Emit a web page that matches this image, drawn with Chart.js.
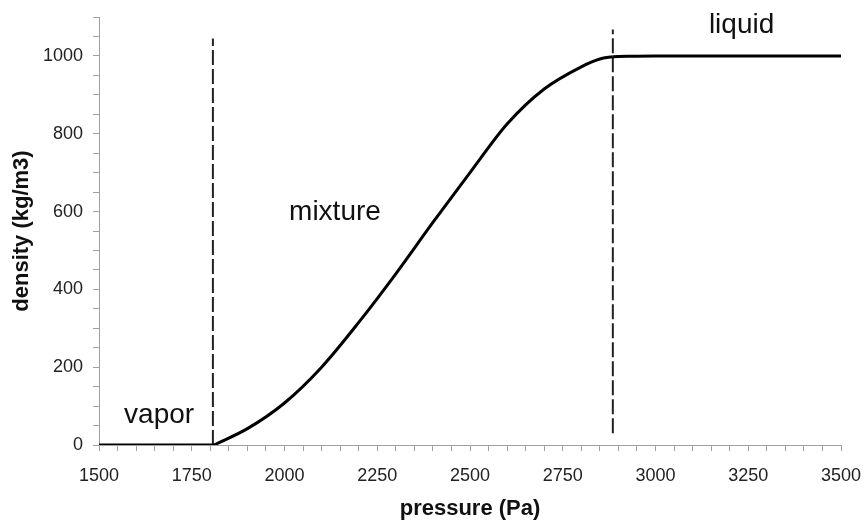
<!DOCTYPE html>
<html>
<head>
<meta charset="utf-8">
<script src="https://cdn.jsdelivr.net/npm/chart.js@4/dist/chart.umd.min.js"></script>
<style>
  html, body { margin: 0; padding: 0; background: #fff; }
  #wrap { width: 867px; height: 527px; }
</style>
</head>
<body>
<div id="wrap"><canvas id="densityChart" width="867" height="527"></canvas></div>
<script>
// density vs pressure, split by phase
const vaporP   = [1500, 1810];
const vaporD   = [0, 0];
const mixtureP = [1810, 1900, 2000, 2100, 2200, 2300, 2400, 2500, 2600, 2700, 2800, 2850, 2885];
const mixtureD = [0, 42, 108, 200, 315, 440, 572, 700, 825, 915, 972, 992, 998];
const liquidP  = [2885, 3000, 3250, 3500];
const liquidD  = [998, 1000, 1000, 1000];

// phase boundaries (dashed lines): x, bottom, top
const vaporLine  = [1807, 0, 1045];
const liquidLine = [2885, 30, 1068];

// region labels: text, x, y
const regionText = ['vapor', 'mixture', 'liquid'];
const regionX = [1662, 2136, 3232];
const regionY = [57, 579, 1060];

const FONT = '"Liberation Sans", Arial, sans-serif';
const axisGray = '#a0a0a0';

const regionLabels = {
  id: 'regionLabels',
  afterDatasetsDraw(chart) {
    const { ctx, scales: { x, y } } = chart;
    ctx.save();
    ctx.font = '28px ' + FONT;
    ctx.fillStyle = '#111';
    ctx.textAlign = 'center';
    ctx.textBaseline = 'alphabetic';
    regionText.forEach((t, i) => {
      ctx.fillText(t, x.getPixelForValue(regionX[i]), y.getPixelForValue(regionY[i]));
    });
    ctx.restore();
  }
};

const toPoints = (xs, ys) => xs.map((v, i) => ({ x: v, y: ys[i] }));

const curve = { borderColor: '#000', borderWidth: 3, pointRadius: 0, fill: false };
const dashed = { borderColor: '#222', borderWidth: 2, borderDash: [15, 4], pointRadius: 0, fill: false };

const ctx = document.getElementById('densityChart').getContext('2d');
new Chart(ctx, {
  type: 'line',
  data: {
    datasets: [
      { ...curve, data: toPoints(vaporP, vaporD) },
      { ...curve, data: toPoints(mixtureP, mixtureD), cubicInterpolationMode: 'monotone' },
      { ...curve, data: toPoints(liquidP, liquidD), cubicInterpolationMode: 'monotone' },
      { ...dashed, data: [{ x: vaporLine[0], y: vaporLine[1] }, { x: vaporLine[0], y: vaporLine[2] }] },
      { ...dashed, data: [{ x: liquidLine[0], y: liquidLine[1] }, { x: liquidLine[0], y: liquidLine[2] }] }
    ]
  },
  options: {
    responsive: false,
    animation: false,
    layout: { padding: { top: 17, right: 26, left: 0, bottom: 0 } },
    plugins: { legend: { display: false }, tooltip: { enabled: false } },
    scales: {
      x: {
        type: 'linear',
        min: 1500,
        max: 3500,
        afterFit: s => { s.height = 82; s.paddingLeft = 0; s.paddingRight = 0; },
        border: { color: axisGray, width: 1 },
        grid: { drawOnChartArea: false, drawTicks: true, tickLength: 6, color: axisGray },
        ticks: {
          stepSize: 50,
          autoSkip: false,
          maxRotation: 0,
          padding: 14,
          color: '#222',
          font: { family: FONT, size: 18 },
          callback: v => (v % 250 === 0 ? String(v) : '')
        },
        title: {
          display: true,
          text: 'pressure (Pa)',
          color: '#111',
          font: { family: FONT, size: 22, weight: 'bold' },
          padding: { top: 0, bottom: 5 }
        }
      },
      y: {
        min: 0,
        max: 1100,
        afterFit: s => { s.width = 99; s.paddingTop = 0; s.paddingBottom = 0; },
        border: { color: axisGray, width: 1 },
        grid: { drawOnChartArea: false, drawTicks: true, tickLength: 6, color: axisGray },
        ticks: {
          stepSize: 50,
          autoSkip: false,
          padding: 10,
          color: '#222',
          font: { family: FONT, size: 18 },
          callback: v => (v % 200 === 0 ? String(v) : '')
        },
        title: {
          display: true,
          text: 'density (kg/m3)',
          color: '#111',
          font: { family: FONT, size: 22, weight: 'bold' },
          padding: { top: 9, bottom: 0 }
        }
      }
    }
  },
  plugins: [regionLabels]
});
</script>
</body>
</html>
